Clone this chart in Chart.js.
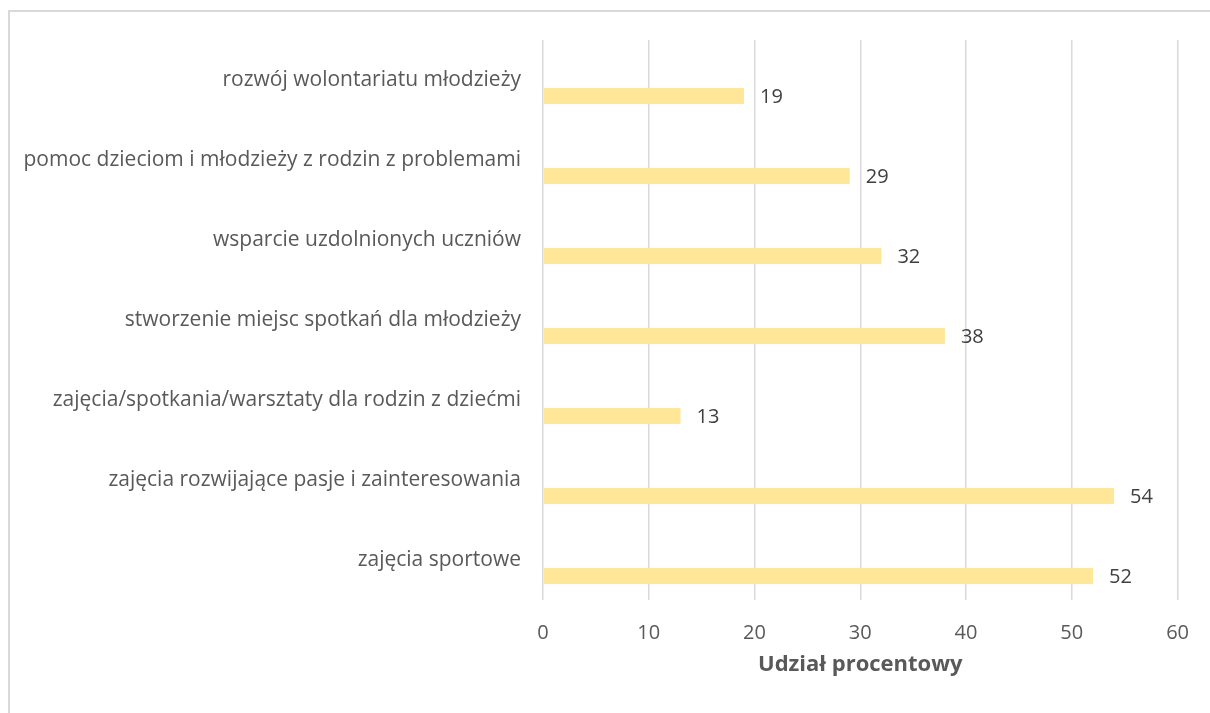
<!DOCTYPE html>
<html>
<head>
<meta charset="utf-8">
<script src="https://cdn.jsdelivr.net/npm/chart.js@4"></script>
<style>
body{margin:0;background:#fff}
#wrap{position:relative;width:1210px;height:713px;overflow:hidden}
#frame{position:absolute;left:8px;top:10px;width:1300px;height:800px;border-left:2px solid #d9d9d9;border-top:2px solid #d9d9d9}
canvas{position:absolute;left:0;top:0}
</style>
</head>
<body>
<div id="wrap">
<div id="frame"></div>
<canvas id="chart" width="1210" height="713"></canvas>
</div>
<script>
// kategorie i wartosci
const kategorie = [
'rozwój wolontariatu młodzieży',
'pomoc dzieciom i młodzieży z rodzin z problemami',
'wsparcie uzdolnionych uczniów',
'stworzenie miejsc spotkań dla młodzieży',
'zajęcia/spotkania/warsztaty dla rodzin z dziećmi',
'zajęcia rozwijające pasje i zainteresowania',
'zajęcia sportowe'
]
const udzial = [19, 29, 32, 38, 13, 54, 52]
// pusta seria (jak w oryginale z Excela)
const pusta = [0, 0, 0, 0, 0, 0, 0]
const osX = [0, 10, 20, 30, 40, 50, 60]

const font = "'Open Sans', 'DejaVu Sans', sans-serif"

const etykiety = {
id: 'etykiety',
afterDatasetsDraw(chart){
const ctx = chart.ctx
const meta = chart.getDatasetMeta(1)
ctx.save()
ctx.font = '20px ' + font
ctx.fillStyle = '#404040'
ctx.textAlign = 'left'
ctx.textBaseline = 'middle'
meta.data.forEach((bar, i)=>{
ctx.fillText(udzial[i], bar.x + 16, bar.y + 1)
})
ctx.restore()
}
}

new Chart(document.getElementById('chart'),{
type:'bar',
data:{
labels:kategorie,
datasets:[
{label:'', data:pusta, backgroundColor:'rgba(0,0,0,0)'},
{label:'Udział', data:udzial, backgroundColor:'#FFE699'}
]
},
options:{
indexAxis:'y',
responsive:false,
animation:false,
categoryPercentage:0.8,
barPercentage:0.5,
layout:{padding:{left:0, right:28, top:40, bottom:35}},
plugins:{legend:{display:false}, tooltip:{enabled:false}},
scales:{
x:{
min:0, max:60,
afterBuildTicks(scale){ scale.ticks = osX.map(v=>({value:v})) },
afterFit(scale){ scale.height = 78 },
grid:{color:'#d9d9d9', lineWidth:1.5, drawTicks:false},
border:{display:false},
ticks:{padding:21, color:'#595959', font:{family:font, size:20}},
title:{display:true, text:'Udział procentowy', color:'#595959', font:{family:font, size:22, weight:'bold'}, padding:{top:6, bottom:0}}
},
y:{
grid:{display:false, drawTicks:false},
border:{display:false},
ticks:{padding:22, color:'#595959', font:{family:font, size:21}},
afterFit(scale){ scale.width = 543 }
}
}
},
plugins:[etykiety]
})
</script>
</body>
</html>
